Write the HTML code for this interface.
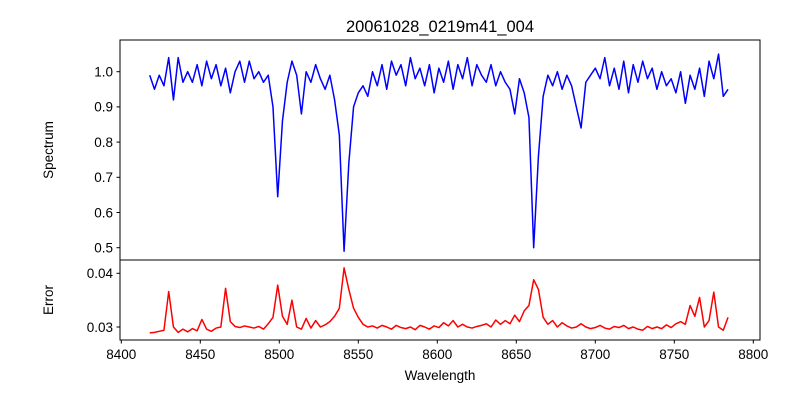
<!DOCTYPE html>
<html><head><meta charset="utf-8"><style>
html,body{margin:0;padding:0;background:#fff;}
svg{display:block;font-family:"Liberation Sans","DejaVu Sans",sans-serif;}
</style></head><body>
<svg id="chart" width="800" height="400" viewBox="0 0 800 400">
<rect width="800" height="400" fill="#fff"/>
<text x="440" y="32" text-anchor="middle" font-size="16.5">20061028_0219m41_004</text>
<text transform="translate(53,150) rotate(-90)" text-anchor="middle" font-size="13.5">Spectrum</text>
<text transform="translate(53,300) rotate(-90)" text-anchor="middle" font-size="13.5">Error</text>
<text x="440" y="380" text-anchor="middle" font-size="13.5">Wavelength</text>
<g id="plots"></g>
</svg>
<script>
const wavelengths=[8418,8421,8424,8427,8430,8433,8436,8439,8442,8445,8448,8451,8454,8457,8460,8463,8466,8469,8472,8475,8478,8481,8484,8487,8490,8493,8496,8499,8502,8505,8508,8511,8514,8517,8520,8523,8526,8529,8532,8535,8538,8541,8544,8547,8550,8553,8556,8559,8562,8565,8568,8571,8574,8577,8580,8583,8586,8589,8592,8595,8598,8601,8604,8607,8610,8613,8616,8619,8622,8625,8628,8631,8634,8637,8640,8643,8646,8649,8652,8655,8658,8661,8664,8667,8670,8673,8676,8679,8682,8685,8688,8691,8694,8697,8700,8703,8706,8709,8712,8715,8718,8721,8724,8727,8730,8733,8736,8739,8742,8745,8748,8751,8754,8757,8760,8763,8766,8769,8772,8775,8778,8781,8784];
const flux=[0.99,0.95,0.99,0.96,1.04,0.92,1.04,0.97,1.00,0.97,1.02,0.96,1.03,0.98,1.02,0.96,1.01,0.94,1.00,1.03,0.97,1.03,0.98,1.00,0.97,0.99,0.90,0.645,0.86,0.97,1.03,0.99,0.88,1.00,0.97,1.02,0.98,0.95,0.99,0.92,0.82,0.49,0.74,0.90,0.94,0.96,0.93,1.00,0.96,1.02,0.95,1.03,0.99,1.02,0.96,1.04,0.98,1.01,0.96,1.02,0.94,1.01,0.97,1.03,0.95,1.02,0.98,1.04,0.96,1.02,0.99,0.97,1.02,0.96,1.00,0.97,0.95,0.88,0.98,0.94,0.87,0.50,0.76,0.93,0.99,0.96,1.00,0.95,0.99,0.96,0.90,0.84,0.97,0.99,1.01,0.98,1.04,0.96,1.01,0.95,1.03,0.94,1.02,0.97,1.03,0.98,1.01,0.95,1.00,0.96,0.98,0.94,1.00,0.91,0.99,0.95,1.01,0.93,1.03,0.98,1.05,0.93,0.95];
const errors=[.0289,.0290,.0292,.0294,.0366,.0300,.0290,.0296,.0291,.0297,.0293,.0314,.0296,.0292,.0298,.0300,.0372,.0310,.0301,.0299,.0302,.0300,.0298,.0301,.0296,.0306,.0318,.0378,.0320,.0305,.0350,.0300,.0296,.0316,.0298,.0312,.0300,.0304,.0310,.0320,.0335,.0410,.0370,.0335,.0318,.0305,.0300,.0302,.0298,.0303,.0300,.0296,.0303,.0299,.0297,.0300,.0295,.0303,.0300,.0296,.0302,.0299,.0308,.0302,.0312,.0300,.0305,.0300,.0298,.0301,.0303,.0306,.0300,.0313,.0305,.0312,.0306,.0322,.0310,.0330,.0340,.0388,.0370,.0318,.0305,.0312,.0300,.0308,.0302,.0298,.0300,.0306,.0300,.0297,.0299,.0303,.0298,.0296,.0301,.0299,.0303,.0297,.0300,.0296,.0294,.0301,.0297,.0300,.0297,.0304,.0299,.0306,.0310,.0305,.0340,.0320,.0355,.0300,.0312,.0365,.0300,.0294,.0318];
const xTicks=[8400,8450,8500,8550,8600,8650,8700,8750,8800];
const fluxTicks=[0.5,0.6,0.7,0.8,0.9,1.0];
const errTicks=[0.03,0.04];

const NS='http://www.w3.org/2000/svg';
const g=document.getElementById('plots');
const L=120,R=760;
const xs=v=>121.3+(v-8400)*1.58;
const yF=v=>71.7+(1-v)*352;
const yE=v=>327-(v-0.03)*5370;
function mk(tag,attrs,parent){const e=document.createElementNS(NS,tag);for(const k in attrs)e.setAttribute(k,attrs[k]);(parent||g).appendChild(e);return e;}

// series
let d=wavelengths.map((w,i)=>(i?'L':'M')+xs(w).toFixed(2)+','+yF(flux[i]).toFixed(2)).join('');
const p1=mk('path',{d:d,fill:'none',stroke:'#0000ff','stroke-width':1.5,'stroke-linejoin':'round'});


d=wavelengths.map((w,i)=>(i?'L':'M')+xs(w).toFixed(2)+','+yE(errors[i]).toFixed(2)).join('');
const p2=mk('path',{d:d,fill:'none',stroke:'#ff0000','stroke-width':1.5,'stroke-linejoin':'round'});



// frames
const f1=mk('rect',{x:L,y:40,width:R-L,height:220,fill:'none',stroke:'#000','stroke-width':1});


const f2=mk('rect',{x:L,y:260,width:R-L,height:80,fill:'none',stroke:'#000','stroke-width':1});



fluxTicks.forEach(t=>{const y=yF(t);
 mk('line',{x1:L-3.5,x2:L,y1:y,y2:y,stroke:'#000'});
 const tx=mk('text',{x:L-7,y:y+4.8,'text-anchor':'end','font-size':13.5});tx.textContent=t.toFixed(1);
 
 });
errTicks.forEach(t=>{const y=yE(t);
 mk('line',{x1:L-3.5,x2:L,y1:y,y2:y,stroke:'#000'});
 const tx=mk('text',{x:L-7,y:y+4.8,'text-anchor':'end','font-size':13.5});tx.textContent=t.toFixed(2);
 
 });
xTicks.forEach(t=>{const x=xs(t);
 mk('line',{x1:x,x2:x,y1:340,y2:343.5,stroke:'#000'});
 const tx=mk('text',{x:x,y:359,'text-anchor':'middle','font-size':13.5});tx.textContent=t;
 
 });
</script>
</body></html>
